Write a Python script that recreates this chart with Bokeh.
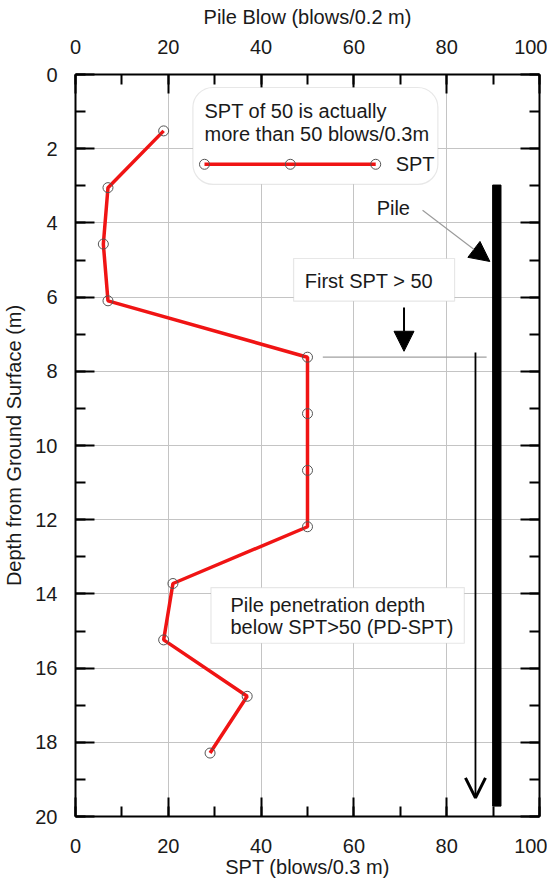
from bokeh.plotting import figure
from bokeh.models import (Range1d, LinearAxis, SingleIntervalTicker, Label,
                          BoxAnnotation, Arrow, NormalHead, OpenHead,
                          CustomLabelingPolicy)
from bokeh.embed import file_html
from bokeh.resources import INLINE

# ---- data ----
depth = [1.52, 3.05, 4.57, 6.10, 7.62, 9.14, 10.67, 12.19, 13.72, 15.24, 16.76, 18.29]
spt = [19, 7, 6, 7, 50, 50, 50, 50, 21, 19, 37, 29]

pile_x = 90.8
pile_top = 2.98
pile_bottom = 19.72
first_spt50_depth = 7.62

FONT = "Liberation Sans"
FS = "20px"
TXT = "#1a1a1a"

p = figure(frame_width=464, frame_height=742,
           x_range=Range1d(0, 100), y_range=Range1d(20, 0),
           output_backend="svg", toolbar_location=None,
           min_border_left=70, min_border_top=74, min_border_right=8,
           min_border_bottom=52, outline_line_color=None,
           background_fill_color="white", border_fill_color="white")

xt = SingleIntervalTicker(interval=20, num_minor_ticks=2)
yt = SingleIntervalTicker(interval=2, num_minor_ticks=2)

bottom_axis = p.below[0]
left_axis = p.left[0]
top_axis = LinearAxis(axis_label="Pile Blow (blows/0.2 m)")
right_axis = LinearAxis()
p.add_layout(top_axis, "above")
p.add_layout(right_axis, "right")

for ax in [bottom_axis, top_axis]:
    ax.ticker = xt
for ax in [left_axis, right_axis]:
    ax.ticker = yt

bottom_axis.axis_label = "SPT (blows/0.3 m)"
left_axis.axis_label = "Depth from Ground Surface (m)"

for ax in [bottom_axis, top_axis, left_axis, right_axis]:
    ax.axis_line_width = 2
    ax.axis_line_color = "black"
    ax.major_tick_in = 19
    ax.major_tick_out = 0
    ax.minor_tick_in = 10
    ax.minor_tick_out = 0
    ax.major_tick_line_width = 2
    ax.minor_tick_line_width = 2
    ax.major_tick_line_color = "black"
    ax.minor_tick_line_color = "black"
    ax.major_label_text_font = FONT
    ax.major_label_text_font_size = FS
    ax.major_label_text_color = TXT
    ax.axis_label_text_font = FONT
    ax.axis_label_text_font_size = FS
    ax.axis_label_text_font_style = "normal"
    ax.axis_label_text_color = TXT

bottom_axis.major_label_standoff = 22
bottom_axis.axis_label_standoff = 0
top_axis.major_label_standoff = 21
top_axis.axis_label_standoff = 9
left_axis.major_label_standoff = 18
left_axis.axis_label_standoff = 7
left_axis.major_label_orientation = "horizontal"
right_axis.major_label_text_font_size = "0px"
right_axis.major_label_standoff = 0
right_axis.major_label_policy = CustomLabelingPolicy(code="return new Set()")

p.xgrid.ticker = xt
p.ygrid.ticker = yt
p.xgrid.grid_line_color = "#c4c4c4"
p.ygrid.grid_line_color = "#c4c4c4"
p.xgrid.grid_line_width = 1
p.ygrid.grid_line_width = 1

# ---- SPT profile ----
p.line(spt, depth, line_color="#f01414", line_width=3.5)
p.scatter(spt, depth, size=10, fill_color=None, line_color="#555555", line_width=1)

# ---- pile ----
p.quad(left=[pile_x - 0.9], right=[pile_x + 0.9], top=[pile_top], bottom=[pile_bottom],
       fill_color="black", line_color="black")

def label(x, y, text):
    lb = Label(x=x, y=y, text=text, text_font=FONT, text_font_size=FS,
               text_color=TXT, text_baseline="middle", text_align="left", level="overlay")
    p.add_layout(lb)

# ---- legend box ----
p.add_layout(BoxAnnotation(left=25.3, right=78.1, top=0.35, bottom=2.96,
                           fill_color="white", fill_alpha=1, line_color="#b0b0b0",
                           line_width=1.2, border_radius=20))
label(27.8, 0.98, "SPT of 50 is actually")
label(27.8, 1.6, "more than 50 blows/0.3m")
lg_x = [27.8, 46.3, 64.7]
lg_y = [2.42, 2.42, 2.42]
p.line(lg_x, lg_y, line_color="#f01414", line_width=3.5, level="overlay")
p.scatter(lg_x, lg_y, size=10, fill_color=None, line_color="#555555", line_width=1, level="overlay")
label(69.0, 2.42, "SPT")

# ---- Pile label and pointer ----
label(64.9, 3.6, "Pile")
p.add_layout(Arrow(x_start=74.8, y_start=3.66, x_end=89.3, y_end=5.04,
                   line_color="#9a9a9a", line_width=1.2,
                   end=NormalHead(size=20, fill_color="black", line_color="black")))

# ---- First SPT > 50 ----
p.add_layout(BoxAnnotation(left=47.0, right=81.7, top=4.96, bottom=6.11,
                           fill_color="white", fill_alpha=1, line_color="#b0b0b0",
                           line_width=1.2))
label(49.4, 5.57, "First SPT > 50")
p.add_layout(Arrow(x_start=70.8, y_start=6.28, x_end=70.8, y_end=7.46,
                   line_color="black", line_width=2,
                   end=NormalHead(size=20, fill_color="black", line_color="black")))
p.add_layout(Arrow(x_start=53.3, y_start=first_spt50_depth, x_end=88.6, y_end=first_spt50_depth,
                   line_color="#a0a0a0", line_width=1.2, end=None))

# ---- penetration depth arrow ----
p.add_layout(Arrow(x_start=86.2, y_start=7.49, x_end=86.2, y_end=19.5,
                   line_color="black", line_width=1.8,
                   end=OpenHead(size=20, line_color="black", line_width=3)))
p.add_layout(BoxAnnotation(left=29.2, right=83.8, top=13.83, bottom=15.33,
                           fill_color="white", fill_alpha=1, line_color="#b0b0b0",
                           line_width=1.2))
label(33.4, 14.29, "Pile penetration depth")
label(33.4, 14.88, "below SPT>50 (PD-SPT)")

open("out.html", "w").write(file_html(p, INLINE))
